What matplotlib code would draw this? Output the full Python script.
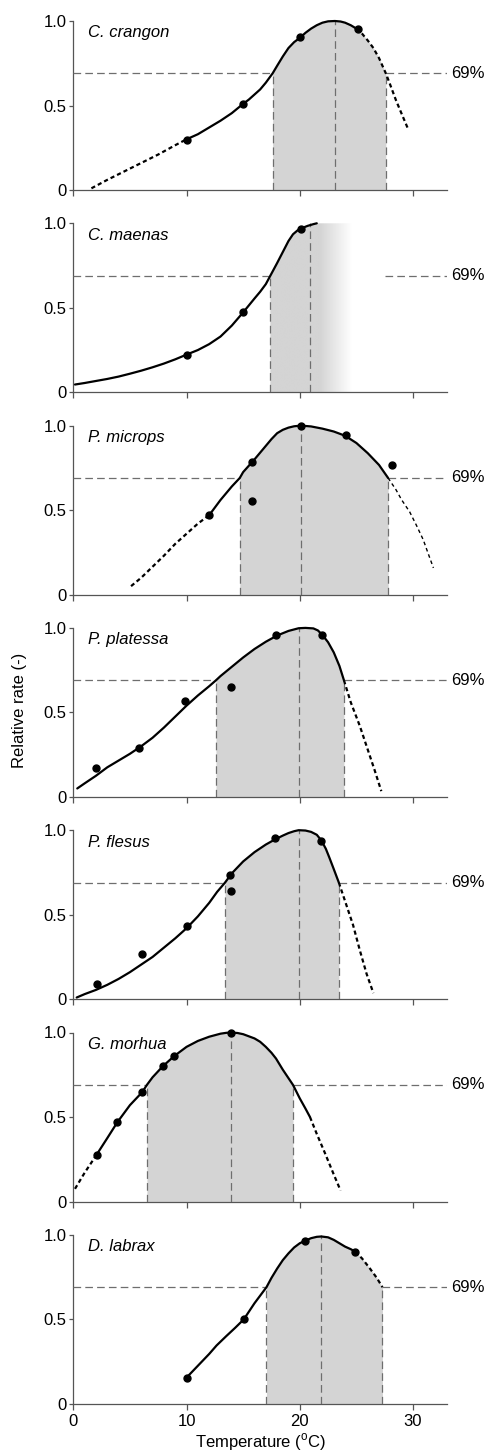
import numpy as np
import matplotlib
matplotlib.use("Agg")
import matplotlib.pyplot as plt
from matplotlib.patches import Polygon

plt.rcParams['font.family'] = ['Liberation Sans', 'DejaVu Sans']
plt.rcParams['mathtext.fontset'] = 'custom'
plt.rcParams['mathtext.rm'] = 'Liberation Sans'
plt.rcParams['lines.scale_dashes'] = False

LEVEL = 0.69
XMAX = 33

# C. crangon
crangon_cx = [1.6, 3, 4.5, 6, 7.5, 9, 10, 11, 12, 13, 14, 15, 15.5, 16, 16.5, 17, 17.6, 18, 18.5, 19, 19.5, 20, 20.5, 21, 21.5, 22, 22.5, 23.1, 23.6, 24, 24.5, 25, 25.5, 26, 26.5, 27, 27.6, 28, 28.5, 29, 29.6]
crangon_cy = [0.01, 0.06, 0.11, 0.16, 0.21, 0.265, 0.30, 0.33, 0.37, 0.41, 0.455, 0.51, 0.535, 0.565, 0.595, 0.635, 0.69, 0.735, 0.79, 0.84, 0.875, 0.90, 0.93, 0.955, 0.975, 0.99, 0.998, 1.0, 0.997, 0.99, 0.975, 0.955, 0.925, 0.885, 0.84, 0.78, 0.69, 0.62, 0.53, 0.45, 0.355]
crangon_px = [10, 15, 20, 25.1]
crangon_py = [0.296, 0.507, 0.903, 0.955]
crangon_fit = [10, 25]
crangon_range = [17.6, 23.1, 27.6]

# C. maenas
maenas_cx = [0.15, 1, 2, 3, 4, 5, 6, 7, 8, 9, 10, 11, 12, 13, 14, 15, 16, 16.5, 17, 17.4, 18, 18.5, 19, 19.4, 19.8, 20.2, 20.7, 21.2, 21.5]
maenas_cy = [0.046, 0.055, 0.067, 0.079, 0.093, 0.11, 0.128, 0.148, 0.17, 0.195, 0.223, 0.25, 0.285, 0.33, 0.395, 0.473, 0.555, 0.595, 0.64, 0.69, 0.765, 0.83, 0.895, 0.935, 0.958, 0.972, 0.985, 0.995, 1.0]
maenas_px = [10, 15, 20.1]
maenas_py = [0.223, 0.473, 0.968]
maenas_fit = [0.15, 21.5]
maenas_range = [17.4, 20.9, None]
maenas_shade_end = 24.6
maenas_fade_start = 21.8
maenas_line_right = 27.5

# P. microps
microps_cx = [5.1, 6, 7, 8, 9, 10, 11, 12, 13, 14, 14.7, 15, 16, 17, 17.5, 18, 18.5, 19, 19.5, 20.1, 21, 22, 23, 24, 25, 26, 27, 27.8, 28.5, 29, 29.7, 30.3, 30.9, 31.3, 31.8]
microps_cy = [0.05, 0.10, 0.165, 0.23, 0.30, 0.36, 0.42, 0.47, 0.56, 0.64, 0.69, 0.725, 0.80, 0.88, 0.92, 0.955, 0.975, 0.988, 0.996, 1.0, 0.995, 0.982, 0.965, 0.94, 0.897, 0.837, 0.767, 0.69, 0.62, 0.56, 0.49, 0.41, 0.325, 0.25, 0.158]
microps_px = [12, 15.8, 15.8, 20.1, 24.1, 28.1]
microps_py = [0.473, 0.785, 0.556, 1.0, 0.943, 0.765]
microps_fit = [12, 27.8]
microps_range = [14.7, 20.1, 27.8]

# P. platessa
platessa_cx = [0.35, 1, 2, 3, 4, 5, 6, 7, 8, 9, 10, 11, 12, 12.6, 13, 14, 15, 16, 17, 18, 19, 19.9, 20.5, 21.2, 21.6, 22, 22.5, 23, 23.5, 23.9, 24.5, 25.3, 26, 26.6, 27.2]
platessa_cy = [0.05, 0.08, 0.125, 0.175, 0.215, 0.255, 0.30, 0.35, 0.41, 0.475, 0.54, 0.60, 0.655, 0.69, 0.715, 0.77, 0.825, 0.875, 0.918, 0.955, 0.982, 0.998, 1.0, 0.997, 0.985, 0.958, 0.915, 0.855, 0.775, 0.69, 0.56, 0.42, 0.28, 0.16, 0.034]
platessa_px = [2.0, 5.8, 9.85, 13.9, 17.9, 22.0]
platessa_py = [0.169, 0.29, 0.57, 0.653, 0.956, 0.956]
platessa_fit = [0.35, 23.9]
platessa_range = [12.6, 19.9, 23.9]

# P. flesus
flesus_cx = [0.3, 1, 2, 3, 4, 5, 6, 7, 8, 9, 10, 11, 12, 12.7, 13.4, 14, 15, 16, 17, 17.8, 18.5, 19, 19.5, 19.9, 20.5, 21, 21.5, 21.9, 22.3, 22.6, 23, 23.45, 24, 24.7, 25.3, 25.9, 26.5]
flesus_cy = [0.01, 0.03, 0.055, 0.085, 0.12, 0.16, 0.205, 0.25, 0.305, 0.36, 0.42, 0.49, 0.57, 0.635, 0.69, 0.745, 0.815, 0.87, 0.915, 0.945, 0.968, 0.983, 0.994, 1.0, 0.998, 0.99, 0.973, 0.94, 0.89, 0.84, 0.77, 0.69, 0.58, 0.44, 0.29, 0.15, 0.036]
flesus_px = [2.06, 6.1, 10, 13.8, 13.9, 17.8, 21.9]
flesus_py = [0.089, 0.267, 0.434, 0.733, 0.64, 0.951, 0.937]
flesus_fit = [0.3, 23.45]
flesus_range = [13.4, 19.9, 23.45]

# G. morhua
morhua_cx = [0.15, 1, 2.06, 3, 3.9, 5, 6.1, 6.5, 7, 7.9, 8.9, 10, 11, 12, 13, 13.5, 13.9, 14.5, 15, 16, 16.5, 17, 17.5, 17.9, 18.5, 19, 19.4, 20, 20.5, 20.9, 21.5, 22.2, 23, 23.6]
morhua_cy = [0.075, 0.17, 0.277, 0.375, 0.47, 0.57, 0.648, 0.69, 0.735, 0.80, 0.86, 0.915, 0.95, 0.975, 0.993, 0.998, 1.0, 0.997, 0.99, 0.965, 0.945, 0.915, 0.88, 0.846, 0.78, 0.73, 0.69, 0.61, 0.55, 0.50, 0.40, 0.29, 0.16, 0.065]
morhua_px = [2.06, 3.9, 6.1, 7.9, 8.9, 13.9]
morhua_py = [0.277, 0.47, 0.648, 0.80, 0.86, 1.0]
morhua_fit = [2.06, 20.9]
morhua_range = [6.5, 13.9, 19.4]

# D. labrax
labrax_cx = [10, 11, 12, 12.65, 13.5, 14.3, 15.06, 16, 17.06, 17.5, 18, 18.5, 19, 19.5, 20, 20.5, 21, 21.5, 21.9, 22.5, 23, 23.5, 24, 24.5, 24.9, 25.5, 26.2, 26.8, 27.3]
labrax_cy = [0.155, 0.225, 0.295, 0.345, 0.40, 0.45, 0.50, 0.595, 0.69, 0.745, 0.80, 0.85, 0.89, 0.925, 0.95, 0.966, 0.98, 0.988, 0.99, 0.985, 0.97, 0.95, 0.93, 0.915, 0.90, 0.86, 0.80, 0.745, 0.69]
labrax_px = [10, 15.06, 20.5, 24.9]
labrax_py = [0.155, 0.50, 0.966, 0.898]
labrax_fit = [10, 24.9]
labrax_range = [17.06, 21.9, 27.3]

SPECIES = ['C. crangon', 'C. maenas', 'P. microps', 'P. platessa', 'P. flesus', 'G. morhua', 'D. labrax']

SHADE = '#d4d4d4'
REFGREY = '#6e6e6e'
SPINE = '#555555'


def draw_panel(ax, name, cx, cy, px, py, fit, rng, thin_right=False):
	cx = np.array(cx)
	cy = np.array(cy)
	lo, opt, hi = rng

	# shaded band between the two 69% crossings
	if hi is not None:
		m = (cx >= lo) & (cx <= hi)
		ax.fill_between(cx[m], 0, cy[m], color=SHADE, lw=0, zorder=1)

	# fitted curve: dashed outside the data range
	left = cx <= fit[0]
	mid = (cx >= fit[0]) & (cx <= fit[1])
	right = cx >= fit[1]
	curve = dict(color='black', zorder=4, clip_on=False, solid_joinstyle='round', solid_capstyle='round')
	ax.plot(cx[mid], cy[mid], lw=1.6, **curve)
	if left.sum() > 1:
		ax.plot(cx[left], cy[left], lw=1.6, dashes=(3, 2.2), **curve)
	if right.sum() > 1:
		if thin_right:
			ax.plot(cx[right], cy[right], lw=1.0, dashes=(2.6, 2.2), **curve)
		else:
			ax.plot(cx[right], cy[right], lw=1.6, dashes=(3, 2.2), **curve)

	ax.plot(px, py, 'o', color='black', ms=5, zorder=5, clip_on=False)

	# reference lines
	ref = dict(color=REFGREY, lw=0.9, dashes=(5.5, 3), zorder=3)
	ax.plot([lo, lo], [0, LEVEL], **ref)
	ax.plot([opt, opt], [0, 1.0], **ref)
	ax.plot([0, lo], [LEVEL, LEVEL], **ref)
	if hi is not None:
		ax.plot([hi, hi], [0, LEVEL], **ref)
		ax.plot([hi, XMAX], [LEVEL, LEVEL], **ref)

	ax.text(XMAX + 0.35, LEVEL, '69%', fontsize=12, va='center', ha='left')
	ax.text(1.3, 0.93, name, fontsize=12, style='italic', va='center', ha='left')


def style_axes(ax, bottom):
	ax.set_xlim(0, XMAX)
	ax.set_ylim(0, 1.0)
	ax.spines['top'].set_visible(False)
	ax.spines['right'].set_visible(False)
	for s in ['left', 'bottom']:
		ax.spines[s].set_color(SPINE)
		ax.spines[s].set_linewidth(0.9)
	ax.set_yticks([0, 0.5, 1.0])
	ax.set_yticklabels(['0', '0.5', '1.0'], fontsize=12)
	ax.set_xticks([0, 10, 20, 30])
	ax.tick_params(axis='y', direction='out', length=3, width=0.9, color=SPINE, pad=2)
	ax.tick_params(axis='x', direction='out', length=4, width=0.9, color=SPINE, pad=3)
	if bottom:
		ax.set_xticklabels(['0', '10', '20', '30'], fontsize=12)
		ax.set_xlabel('Temperature ($^{\\mathrm{o}}$C)', fontsize=12, labelpad=2)
	else:
		ax.set_xticklabels([])


if __name__ == "__main__":
	W, H = 489, 1455
	fig = plt.figure(figsize=(W / 100, H / 100), dpi=100)

	panels = [
		(crangon_cx, crangon_cy, crangon_px, crangon_py, crangon_fit, crangon_range),
		(maenas_cx, maenas_cy, maenas_px, maenas_py, maenas_fit, maenas_range),
		(microps_cx, microps_cy, microps_px, microps_py, microps_fit, microps_range),
		(platessa_cx, platessa_cy, platessa_px, platessa_py, platessa_fit, platessa_range),
		(flesus_cx, flesus_cy, flesus_px, flesus_py, flesus_fit, flesus_range),
		(morhua_cx, morhua_cy, morhua_px, morhua_py, morhua_fit, morhua_range),
		(labrax_cx, labrax_cy, labrax_px, labrax_py, labrax_fit, labrax_range),
	]

	left_px, right_px = 73.3, 447
	axes = []
	for i, (name, p) in enumerate(zip(SPECIES, panels)):
		y0 = 190 + 202.3 * i
		ax = fig.add_axes([left_px / W, 1 - y0 / H, (right_px - left_px) / W, 169 / H])
		ax.patch.set_alpha(0)
		style_axes(ax, i == len(SPECIES) - 1)
		draw_panel(ax, name, *p, thin_right=(name == 'P. microps'))
		axes.append(ax)

	# C. maenas: shaded band fading out past the last measurement
	ax = axes[1]
	cx = np.array(maenas_cx)
	cy = np.array(maenas_cy)
	m = cx >= maenas_range[0]
	verts = list(zip(cx[m], cy[m])) + [(maenas_shade_end, 1.0), (maenas_shade_end, 0), (maenas_range[0], 0)]
	poly = Polygon(verts, closed=True, facecolor='none', edgecolor='none')
	ax.add_patch(poly)
	gx = np.linspace(maenas_range[0], maenas_shade_end, 200)
	shade_rgb = np.array(matplotlib.colors.to_rgb(SHADE))
	frac = np.clip((gx - maenas_fade_start) / (maenas_shade_end - maenas_fade_start), 0, 1)
	grad = shade_rgb[None, :] * (1 - frac[:, None]) + frac[:, None]
	img = ax.imshow(grad[None, :, :], extent=[maenas_range[0], maenas_shade_end, 0, 1.0],
		aspect='auto', zorder=1, interpolation='bilinear')
	img.set_clip_path(poly)
	ax.set_xlim(0, XMAX)
	ax.set_ylim(0, 1.0)
	ax.plot([maenas_line_right, XMAX], [LEVEL, LEVEL], color=REFGREY, lw=0.9, dashes=(5.5, 3), zorder=3)

	fig.text(20 / W, 1 - 710 / H, 'Relative rate (-)', rotation=90, fontsize=12, va='center', ha='center')

	fig.savefig('out.png', dpi=100)
